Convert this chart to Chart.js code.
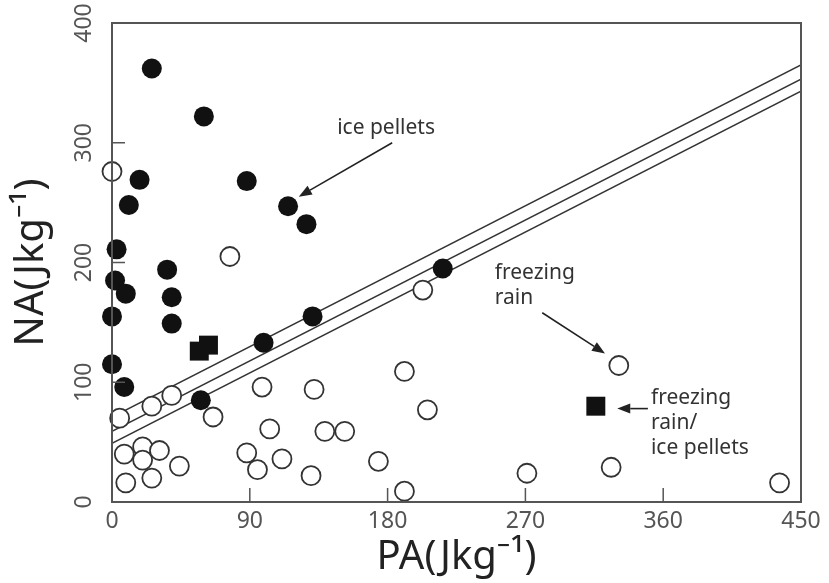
<!DOCTYPE html>
<html>
<head>
<meta charset="utf-8">
<script src="https://cdn.jsdelivr.net/npm/chart.js@4"></script>
<style>
  body { margin: 0; background: #fff; }
  canvas { display: block; }
</style>
</head>
<body>
<canvas id="chart" width="829" height="583"></canvas>
<script>
// ice pellets (filled circles)
const icePelletsPA = [26, 60, 18, 11, 88, 115, 127, 3, 36, 2, 9, 39, 0, 39, 0, 8, 58, 99, 131, 216];
const icePelletsNA = [362, 322, 269, 248, 268, 247, 232, 211, 194, 185, 174, 171, 155, 149, 115, 96, 85, 133, 155, 195];

// freezing rain (open circles)
const freezingRainPA = [0, 77, 203, 5, 26, 39, 66, 8, 20, 20, 31, 44, 9, 26, 98, 132, 103, 88, 95, 111, 130, 139, 152, 191, 206, 174, 191, 271, 331, 326, 436];
const freezingRainNA = [276, 205, 177, 70, 80, 89, 71, 40, 46, 35, 43, 30, 16, 20, 96, 94, 61, 41, 27, 36, 22, 59, 59, 109, 77, 34, 9, 24, 114, 29, 16];

// freezing rain / ice pellets (filled squares)
const mixedPA = [57, 63, 316];
const mixedNA = [126, 131, 80];

// three parallel boundary lines
const boundaryPA = [0, 450];
const boundaryUpper = [71, 365];
const boundaryMiddle = [59, 353];
const boundaryLower = [49, 343];

const xTicks = [0, 90, 180, 270, 360, 450];
const yTicks = [0, 100, 200, 300, 400];

const toPoints = (xs, ys) => xs.map((x, i) => ({ x: x, y: ys[i] }));

// annotation text and arrows, in data units
const notes = [
  { lines: ['ice pellets'], x: 179, y: 312, align: 'center' },
  { lines: ['freezing', 'rain'], x: 250, y: 191, align: 'left' },
  { lines: ['freezing', 'rain/', 'ice pellets'], x: 352, y: 87, align: 'left' }
];
const arrows = [
  { from: [183, 300], to: [122, 255] },
  { from: [281, 158], to: [322, 124] },
  { from: [350, 78], to: [330, 78] }
];

const frame = {
  id: 'frame',
  afterDatasetsDraw(chart) {
    const { ctx, chartArea: a, scales: { x, y } } = chart;
    ctx.save();
    ctx.strokeStyle = '#555';
    ctx.lineWidth = 2;
    ctx.strokeRect(a.left, a.top, a.right - a.left, a.bottom - a.top);

    // inner tick marks
    ctx.lineWidth = 1.5;
    ctx.beginPath();
    xTicks.slice(1, -1).forEach(v => {
      const px = x.getPixelForValue(v);
      ctx.moveTo(px, a.bottom);
      ctx.lineTo(px, a.bottom - 14);
    });
    yTicks.slice(1, -1).forEach(v => {
      const py = y.getPixelForValue(v);
      ctx.moveTo(a.left, py);
      ctx.lineTo(a.left + 13, py);
    });
    ctx.stroke();

    // annotations
    ctx.fillStyle = '#333';
    ctx.font = '21px "Noto Sans"';
    ctx.textBaseline = 'middle';
    notes.forEach(n => {
      ctx.textAlign = n.align;
      n.lines.forEach((t, i) => {
        ctx.fillText(t, x.getPixelForValue(n.x), y.getPixelForValue(n.y) + i * 25);
      });
    });

    ctx.strokeStyle = '#222';
    ctx.fillStyle = '#222';
    ctx.lineWidth = 1.6;
    arrows.forEach(ar => {
      const x0 = x.getPixelForValue(ar.from[0]), y0 = y.getPixelForValue(ar.from[1]);
      const x1 = x.getPixelForValue(ar.to[0]), y1 = y.getPixelForValue(ar.to[1]);
      const ang = Math.atan2(y1 - y0, x1 - x0);
      const hl = 13, hw = 5;
      const bx = x1 - hl * Math.cos(ang), by = y1 - hl * Math.sin(ang);
      ctx.beginPath();
      ctx.moveTo(x0, y0);
      ctx.lineTo(bx, by);
      ctx.stroke();
      ctx.beginPath();
      ctx.moveTo(x1, y1);
      ctx.lineTo(bx + hw * Math.sin(ang), by - hw * Math.cos(ang));
      ctx.lineTo(bx - hw * Math.sin(ang), by + hw * Math.cos(ang));
      ctx.closePath();
      ctx.fill();
    });
    ctx.restore();
  }
};

const lineStyle = {
  type: 'line',
  showLine: true,
  borderColor: '#333',
  borderWidth: 1.5,
  pointRadius: 0,
  fill: false,
  order: 10
};

new Chart(document.getElementById('chart'), {
  type: 'scatter',
  data: {
    datasets: [
      {
        label: 'ice pellets',
        data: toPoints(icePelletsPA, icePelletsNA),
        pointStyle: 'circle',
        pointRadius: 10,
        backgroundColor: '#111',
        borderColor: '#111',
        borderWidth: 0,
        clip: false,
        order: 1
      },
      {
        label: 'freezing rain',
        data: toPoints(freezingRainPA, freezingRainNA),
        pointStyle: 'circle',
        pointRadius: 9.5,
        backgroundColor: '#fff',
        borderColor: '#333',
        borderWidth: 1.8,
        clip: false,
        order: 2
      },
      {
        label: 'freezing rain/ice pellets',
        data: toPoints(mixedPA, mixedNA),
        pointStyle: 'rect',
        pointRadius: 13.4,
        backgroundColor: '#111',
        borderColor: '#111',
        borderWidth: 0,
        clip: false,
        order: 0
      },
      Object.assign({ label: 'upper', data: toPoints(boundaryPA, boundaryUpper) }, lineStyle),
      Object.assign({ label: 'middle', data: toPoints(boundaryPA, boundaryMiddle) }, lineStyle),
      Object.assign({ label: 'lower', data: toPoints(boundaryPA, boundaryLower) }, lineStyle)
    ]
  },
  options: {
    responsive: false,
    animation: false,
    layout: { padding: { top: 23, right: 28, left: 0, bottom: 0 } },
    plugins: {
      legend: { display: false },
      tooltip: { enabled: false }
    },
    scales: {
      x: {
        type: 'linear',
        min: 0,
        max: 450,
        afterBuildTicks: s => { s.ticks = xTicks.map(v => ({ value: v })); },
        afterFit: s => { s.height = 81; },
        grid: { display: false, drawTicks: false },
        border: { display: false },
        ticks: {
          padding: 6,
          color: '#555',
          font: { family: 'Noto Sans', size: 23 }
        },
        title: {
          display: true,
          text: 'PA(Jkg⁻¹)',
          color: '#222',
          font: { family: 'Noto Sans', size: 40 },
          padding: { top: 0, bottom: 1 }
        }
      },
      y: {
        type: 'linear',
        min: 0,
        max: 400,
        afterBuildTicks: s => { s.ticks = yTicks.map(v => ({ value: v })); },
        afterFit: s => { s.width = 112; },
        grid: { display: false, drawTicks: false },
        border: { display: false },
        ticks: {
          padding: 8,
          minRotation: 90,
          maxRotation: 90,
          crossAlign: 'center',
          color: '#555',
          font: { family: 'Noto Sans', size: 23 }
        },
        title: {
          display: true,
          text: 'NA(Jkg⁻¹)',
          color: '#222',
          font: { family: 'Noto Sans', size: 40 },
          padding: { top: 8, bottom: 0 }
        }
      }
    }
  },
  plugins: [frame]
});
</script>
</body>
</html>
